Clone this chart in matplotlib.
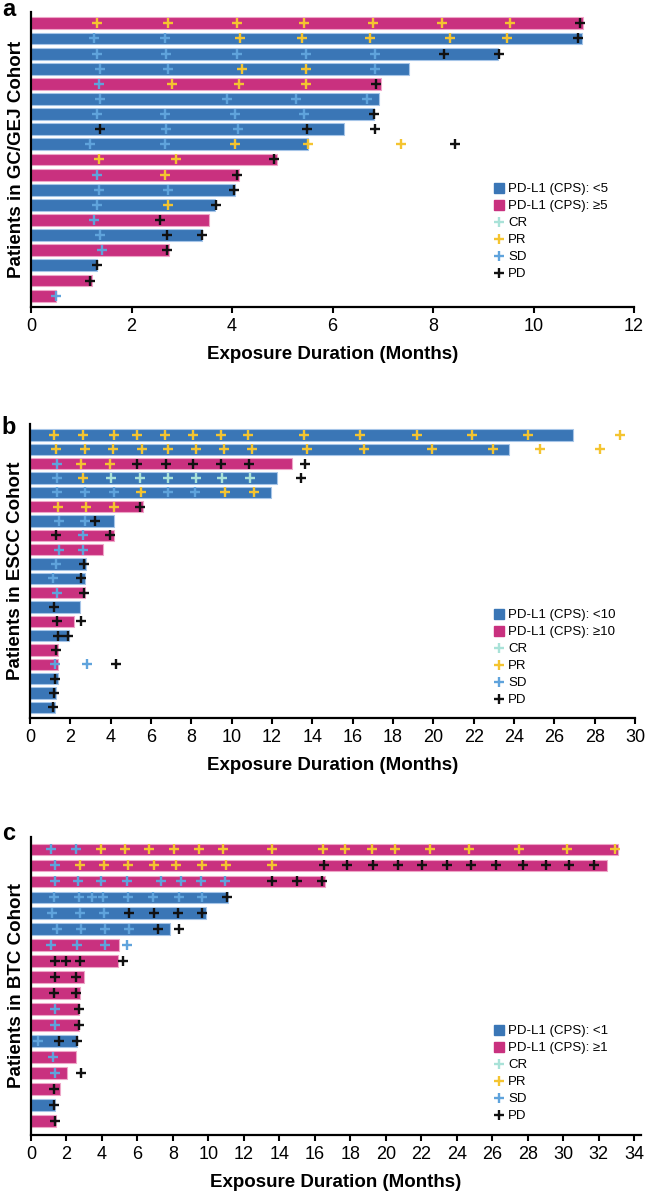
import matplotlib
matplotlib.use('Agg')
import matplotlib.pyplot as plt
from matplotlib.lines import Line2D

plt.rcParams['font.family'] = ['Liberation Sans', 'DejaVu Sans']

BLUE = '#3a76b6'
MAGENTA = '#c9317f'
EDGES = {BLUE: '#a6c5e8', MAGENTA: '#eea6c8'}
# C = CR, P = PR, S = SD, D = PD
RESP_COLORS = {'C': '#a9e2d8', 'P': '#f4c430', 'S': '#5fa3dc', 'D': '#111111'}
RESP_NAMES = {'C': 'CR', 'P': 'PR', 'S': 'SD', 'D': 'PD'}

# ---- panel a: GC/GEJ cohort ----
a_duration = [10.98, 10.96, 9.30, 7.53, 6.96, 6.92, 6.82, 6.23, 5.52, 4.89,
              4.14, 4.06, 3.67, 3.55, 3.41, 2.74, 1.32, 1.22, 0.49]
a_high = [1, 0, 0, 0, 1, 0, 0, 0, 0, 1, 1, 0, 0, 1, 0, 1, 0, 1, 1]
a_times = [
    [1.32, 2.72, 4.10, 5.44, 6.80, 8.18, 9.54, 10.92],
    [1.26, 2.66, 4.16, 5.40, 6.74, 8.33, 9.48, 10.88],
    [1.32, 2.68, 4.10, 5.48, 6.84, 8.22, 9.32],
    [1.38, 2.72, 4.20, 5.48, 6.84],
    [1.36, 2.80, 4.14, 5.48, 6.86],
    [1.38, 3.90, 5.28, 6.68],
    [1.32, 2.66, 4.06, 5.44, 6.82],
    [1.38, 2.68, 4.12, 5.50, 6.84],
    [1.18, 2.66, 4.06, 5.52, 7.37, 8.43],
    [1.36, 2.88, 4.83],
    [1.32, 2.66, 4.10],
    [1.36, 2.72, 4.04],
    [1.32, 2.72, 3.68],
    [1.26, 2.56],
    [1.38, 2.70, 3.41],
    [1.42, 2.70],
    [1.32],
    [1.18],
    [0.49],
]
a_resp = ['PPPPPPPD', 'SSPPPPPD', 'SSSSSDD', 'SSPPS', 'SPPPD', 'SSSS', 'SSSSD',
          'DSSDD', 'SSPPPD', 'PPD', 'SPD', 'SSD', 'SPD', 'SD', 'SDD', 'SD',
          'D', 'D', 'S']
a_labels = ['PD-L1 (CPS): <5', 'PD-L1 (CPS): \u22655']
a_ticks = list(range(0, 13, 2))

# ---- panel b: ESCC cohort ----
b_duration = [26.93, 23.74, 13.00, 12.24, 11.94, 5.59, 4.19, 4.19, 3.61, 2.78,
              2.71, 2.71, 2.50, 2.20, 1.92, 1.39, 1.39, 1.37, 1.29, 1.24]
b_high = [0, 0, 1, 0, 0, 1, 0, 1, 1, 0, 0, 1, 0, 1, 0, 1, 1, 0, 0, 0]
b_times = [
    [1.18, 2.65, 4.17, 5.33, 6.71, 8.07, 9.46, 10.83, 13.60, 16.36, 19.21,
     21.90, 24.71, 29.25],
    [1.29, 2.73, 4.12, 5.56, 6.85, 8.25, 9.60, 11.00, 13.75, 16.54, 19.93,
     22.98, 25.29, 28.27],
    [1.32, 2.55, 3.97, 5.33, 6.73, 8.09, 9.48, 10.85, 13.63],
    [1.32, 2.61, 4.02, 5.43, 6.82, 8.22, 9.51, 10.92, 13.43],
    [1.32, 2.75, 4.19, 5.48, 6.85, 8.19, 9.66, 11.10],
    [1.41, 2.80, 4.19, 5.46],
    [1.42, 2.75, 3.21],
    [1.27, 2.61, 3.97],
    [1.44, 2.61],
    [1.29, 2.70],
    [1.16, 2.53],
    [1.32, 2.70],
    [1.19],
    [1.36, 2.53],
    [1.37, 1.87],
    [1.27],
    [1.24, 2.84, 4.25],
    [1.26],
    [1.21],
    [1.14],
]
b_resp = ['P' * 14, 'P' * 14, 'SPPDDDDDD', 'SPCCCCCCD', 'SSSPSSPP', 'PPPD',
          'SSD', 'DSD', 'SS', 'SD', 'SD', 'SD', 'D', 'DD', 'DD', 'D', 'SSD',
          'D', 'D', 'D']
b_labels = ['PD-L1 (CPS): <10', 'PD-L1 (CPS): \u226510']
b_ticks = list(range(0, 31, 2))

# ---- panel c: BTC cohort ----
c_duration = [33.10, 32.49, 16.57, 11.09, 9.86, 7.85, 4.96, 4.92, 3.01, 2.76,
              2.72, 2.69, 2.59, 2.52, 2.05, 1.62, 1.37, 1.40]
c_high = [1, 1, 1, 0, 0, 0, 1, 1, 1, 1, 1, 1, 0, 1, 1, 1, 0, 1]
c_times = [
    [1.13, 2.52, 3.95, 5.28, 6.67, 8.06, 9.45, 10.82, 13.60, 16.48, 17.72,
     19.22, 20.50, 22.49, 24.69, 27.53, 30.21, 32.94],
    [1.37, 2.76, 4.11, 5.47, 6.92, 8.17, 9.64, 11.01, 13.59, 16.53, 17.83,
     19.26, 20.69, 22.04, 23.45, 24.80, 26.23, 27.75, 29.01, 30.34, 31.75],
    [1.37, 2.67, 3.95, 5.43, 7.31, 8.46, 9.60, 10.95, 13.60, 14.98, 16.40],
    [1.30, 2.72, 3.42, 4.08, 5.49, 6.90, 8.32, 9.62, 11.03],
    [1.17, 2.76, 4.11, 5.51, 6.92, 8.29, 9.66],
    [1.45, 2.82, 4.15, 5.54, 7.18, 8.32],
    [1.15, 2.61, 4.15, 5.43],
    [1.37, 1.97, 2.76, 5.19],
    [1.37, 2.56],
    [1.32, 2.54],
    [1.33, 2.72],
    [1.33, 2.69],
    [0.41, 1.60, 2.59],
    [1.26],
    [1.33, 2.84],
    [1.32],
    [1.32],
    [1.35],
]
c_resp = ['SS' + 'P' * 16, 'S' + 'P' * 8 + 'D' * 12, 'SSSSSSSSDDD', 'SSSSSSSSD',
          'SSSDDDD', 'SSSSDD', 'SSSS', 'DDDD', 'DD', 'DD', 'SD', 'SD', 'SDD',
          'S', 'SD', 'D', 'D', 'D']
c_labels = ['PD-L1 (CPS): <1', 'PD-L1 (CPS): \u22651']
c_ticks = list(range(0, 35, 2))

W, H = 646, 1195
fig = plt.figure(figsize=(W / 100, H / 100), dpi=100)


def px_rect(left, top, right, bottom):
    return [left / W, 1 - bottom / H, (right - left) / W, (bottom - top) / H]


def draw_panel(ax, duration, high, times, resp, labels, ticks, xmax,
               bar_h, pad_top, pad_bottom, ylabel, legend_xy):
    n = len(duration)
    rows = list(range(n))
    colors = [MAGENTA if h else BLUE for h in high]
    ax.barh(rows, duration, height=bar_h, color=colors,
            edgecolor=[EDGES[c] for c in colors], linewidth=0.8, zorder=2)

    # response assessments as plus markers
    for code in 'CPSD':
        xs, ys = [], []
        for i in rows:
            for t, r in zip(times[i], resp[i]):
                if r == code:
                    xs.append(t)
                    ys.append(i)
        ax.plot(xs, ys, ls='none', marker='+', ms=6.5, mew=1.7,
                color=RESP_COLORS[code], zorder=3, clip_on=False)

    ax.set_xlim(0, xmax)
    ax.set_ylim(n - 1 + pad_bottom, -pad_top)
    ax.set_xticks(ticks)
    ax.set_yticks([])
    ax.tick_params(axis='x', direction='out', length=4, width=1.5,
                   labelsize=13, pad=4)
    for s in ['top', 'right']:
        ax.spines[s].set_visible(False)
    for s in ['left', 'bottom']:
        ax.spines[s].set_linewidth(1.6)
    ax.set_xlabel('Exposure Duration (Months)', fontsize=13.5,
                  fontweight='bold', labelpad=8)
    ax.set_ylabel(ylabel, fontsize=13.5, fontweight='bold', labelpad=4)

    handles = [Line2D([], [], ls='none', marker='s', ms=7, color=BLUE),
               Line2D([], [], ls='none', marker='s', ms=7, color=MAGENTA)]
    names = list(labels)
    for code in 'CPSD':
        handles.append(Line2D([], [], ls='none', marker='+', ms=6.5, mew=1.7,
                              color=RESP_COLORS[code]))
        names.append(RESP_NAMES[code])
    ax.legend(handles, names, loc='upper left',
              bbox_to_anchor=(legend_xy[0] / W, 1 - legend_xy[1] / H),
              bbox_transform=fig.transFigure, frameon=False, fontsize=9.5,
              handlelength=0.6, handletextpad=0.4, labelspacing=0.36,
              borderpad=0, borderaxespad=0)


ax_a = fig.add_axes(px_rect(31, 12, 634, 307))
draw_panel(ax_a, a_duration, a_high, a_times, a_resp, a_labels, a_ticks, 12,
           0.78, 0.75, 0.75, 'Patients in GC/GEJ Cohort', (495, 183))

ax_b = fig.add_axes(px_rect(30, 424, 635, 718))
draw_panel(ax_b, b_duration, b_high, b_times, b_resp, b_labels, b_ticks, 30,
           0.8, 0.77, 0.75, 'Patients in ESCC Cohort', (495, 609))

ax_c = fig.add_axes(px_rect(31, 837, 641, 1135))
draw_panel(ax_c, c_duration, c_high, c_times, c_resp, c_labels, c_ticks, 34.38,
           0.72, 0.77, 0.875, 'Patients in BTC Cohort', (495, 1025))

for letter, y in [('a', 10), ('b', 428), ('c', 833)]:
    fig.text(9 / W, 1 - y / H, letter, fontsize=17, fontweight='bold',
             ha='center', va='center')

fig.savefig('out.png', dpi=100)
